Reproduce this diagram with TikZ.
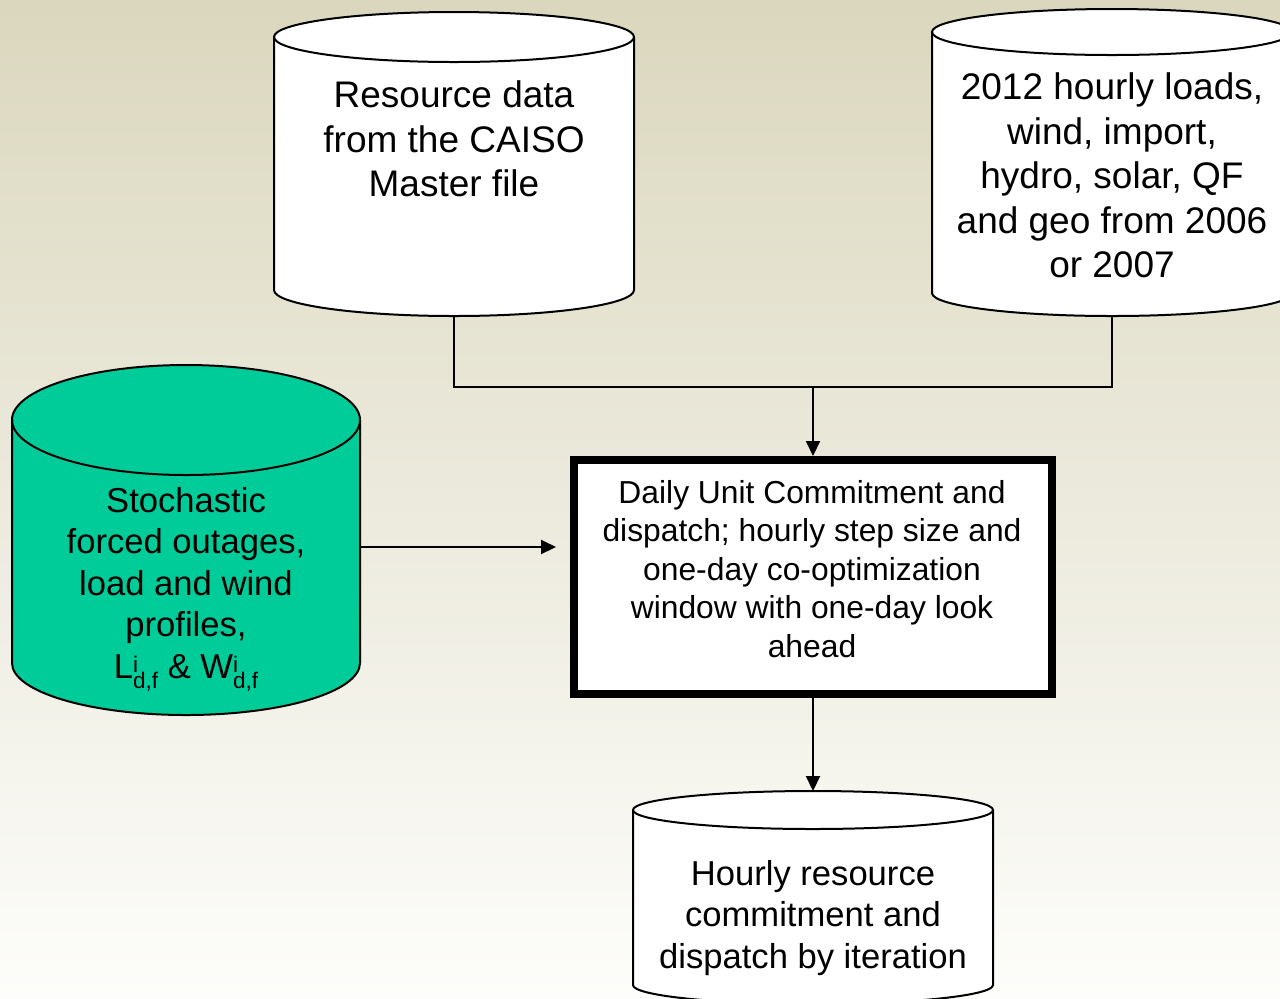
\documentclass[tikz,border=0pt]{standalone}
\usepackage{fontspec}
\setmainfont{Liberation Sans}
\usetikzlibrary{arrows.meta,calc}

% Cylinder drawn in pixel units:
% #1 name, #2 centre x, #3 top ellipse y, #4 bottom ellipse y,
% #5 x radius (pt), #6 top y radius (pt), #7 bottom y radius (pt), #8 fill
\newcommand\drum[8]{%
  \filldraw[drumline, fill=#8]
    ($(#2,#3)+(-#5,0)$) -- ($(#2,#4)+(-#5,0)$)
    arc[start angle=180, end angle=360, x radius=#5, y radius=#7]
    -- ($(#2,#3)+(#5,0)$)
    arc[start angle=0, end angle=180, x radius=#5, y radius=#6] -- cycle;
  \draw[drumline] ($(#2,#3)+(#5,0)$)
    arc[start angle=0, end angle=-180, x radius=#5, y radius=#6];
  \coordinate (#1-top) at ($(#2,#3)+(0,#6)$);
  \coordinate (#1-bot) at ($(#2,#4)+(0,-#7)$);
}

% stacked superscript and subscript set in the text font
\newcommand\supsub[2]{%
  \rlap{\raisebox{3pt}{\fontsize{11.3}{12}\selectfont #1}}%
  \raisebox{-5pt}{\fontsize{11.3}{12}\selectfont #2}}

\definecolor{bgtop}{RGB}{219,215,190}
\definecolor{bgbot}{RGB}{253,253,251}
\definecolor{seagreen}{RGB}{0,204,153}

\tikzset{
  drumline/.style={draw=black, line width=1pt},
  conn/.style={draw=black, line width=1pt},
  arrowconn/.style={conn, -{Triangle[length=7.5pt, width=7pt]}},
  label/.style={align=center, inner sep=0pt, text=black},
  bigtext/.style={label, font=\fontsize{18.5}{22.2}\selectfont},
  midtext/.style={label, font=\fontsize{17.3}{20.75}\selectfont},
  boxtext/.style={label, font=\fontsize{15.9}{19.25}\selectfont},
  ucbox/.style={draw=black, line width=4pt, fill=white,
    minimum width=239pt, minimum height=117pt, inner sep=0pt},
}

\begin{document}
\begin{tikzpicture}[x=0.5pt, y=-0.5pt]
  \useasboundingbox (0,0) rectangle (1280,998);
  \shade[top color=bgtop, bottom color=bgbot] (0,0) rectangle (1280,998);
  \clip (0,0) rectangle (1280,998);

  % data sources
  \drum{res}{454}{37}{290}{90pt}{12.5pt}{13pt}{white}
  \drum{hist}{1112}{32}{293}{90pt}{11.5pt}{11.5pt}{white}
  \drum{sto}{186}{420}{663}{87pt}{27.5pt}{26pt}{seagreen}
  \drum{out}{813}{810}{985}{90pt}{9.5pt}{9.5pt}{white}
  \coordinate (sto-east) at (360,547);

  \node[bigtext] (restext) at (454,139)
    {Resource data\\from the CAISO\\Master file};
  \node[bigtext] (histtext) at (1112,175.5)
    {2012 hourly loads,\\wind, import,\\hydro, solar, QF\\and geo from 2006\\or 2007};
  \node[midtext] (stotext) at (186,589)
    {Stochastic\\forced outages,\\load and wind\\profiles,\\
     L\supsub{i}{d,f} \& W\supsub{i}{d,f}};
  \node[midtext] (outtext) at (813,918)
    {Hourly resource\\commitment and\\dispatch by iteration};

  % unit commitment step
  \node[ucbox] (uc) at (813,577) {};
  \node[boxtext] (uctext) at (812,569)
    {Daily Unit Commitment and\\dispatch; hourly step size and\\one-day co-optimization\\window with one-day look\\ahead};

  % connectors
  \coordinate (jn) at (813,387);
  \draw[conn] (res-bot) |- (jn) -| (hist-bot);
  \draw[arrowconn] (jn) -- (uc.north);
  \draw[arrowconn] (sto-east) -- ([xshift=-7pt]uc.west |- sto-east);
  \draw[arrowconn] (uc.south) -- (out-top);
\end{tikzpicture}
\end{document}
